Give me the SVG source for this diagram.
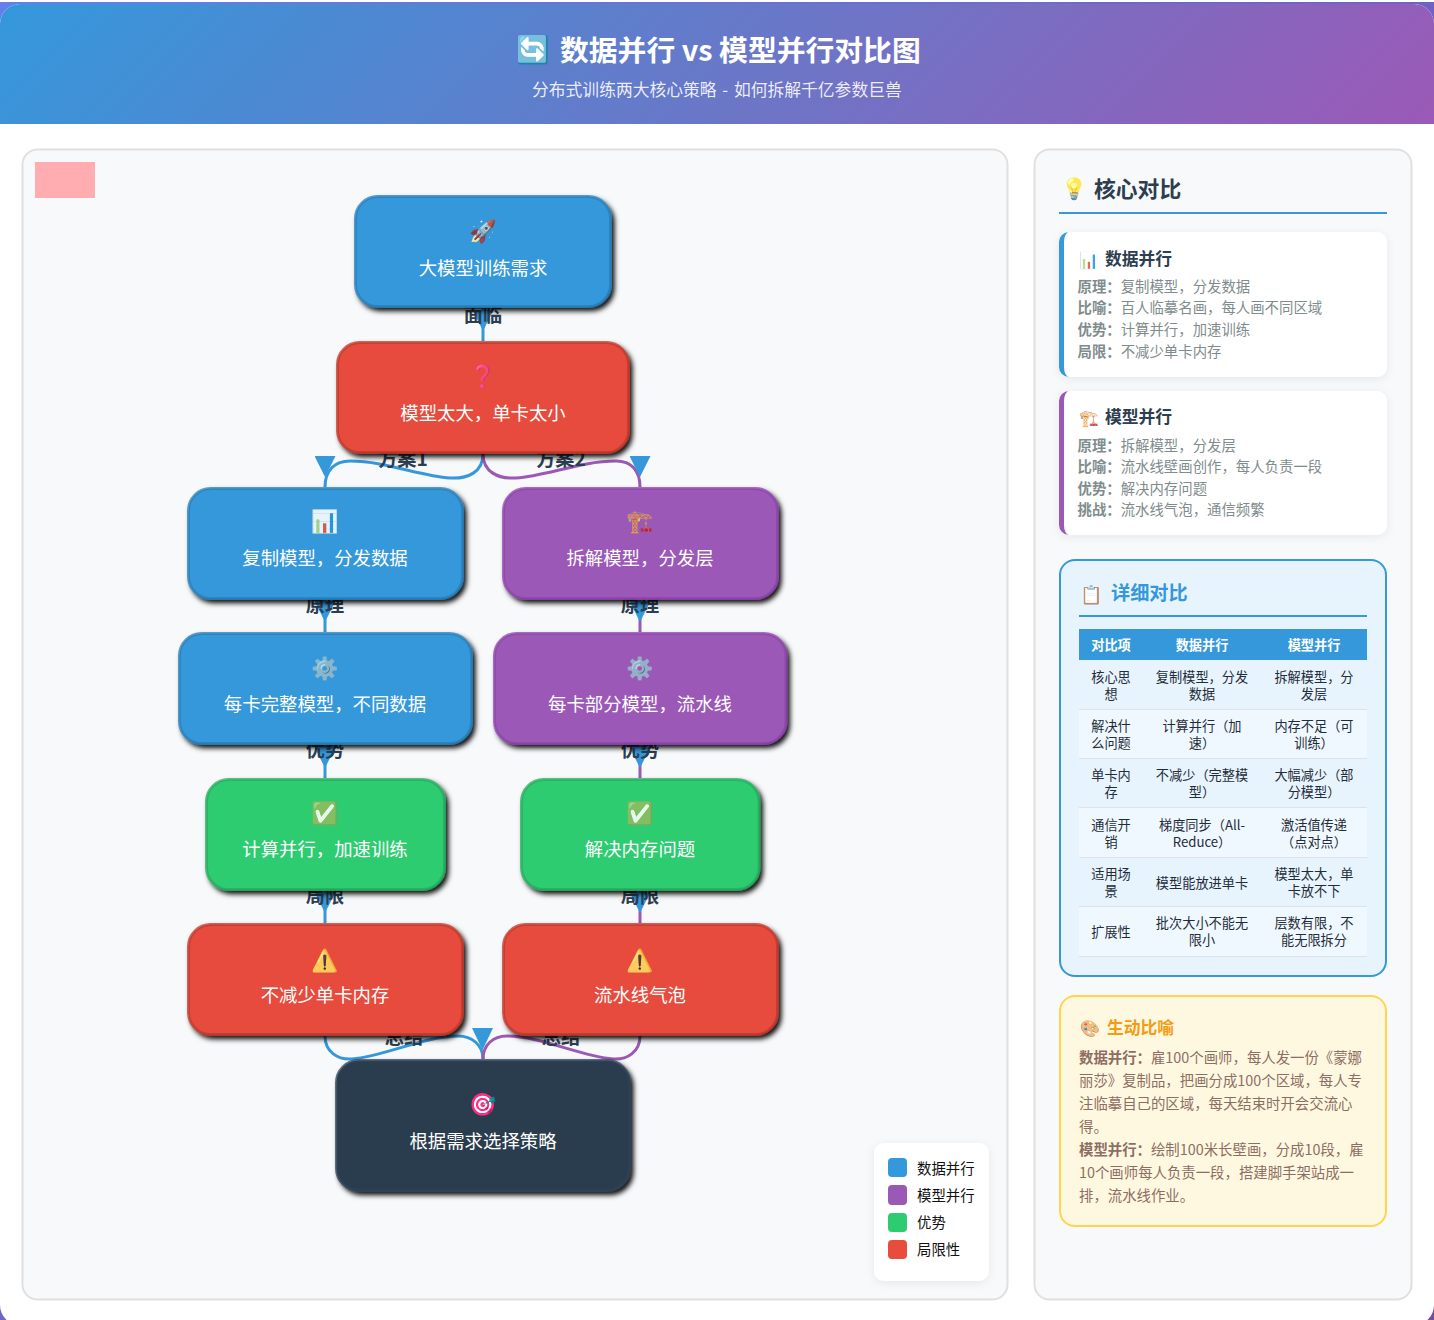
<svg xmlns="http://www.w3.org/2000/svg" width="1434" height="1320" viewBox="0 0 1434 1320">
<style>
text{font-family:"Noto Sans CJK SC","Noto Sans",sans-serif;text-rendering:optimizeLegibility}
.em{font-family:"Noto Color Emoji","Noto Sans CJK SC",sans-serif;filter:saturate(.75) brightness(1.08) opacity(.88)}
.pk{filter:hue-rotate(-28deg) saturate(.85) brightness(1.1)}
.nt{fill:#fff;font-size:18.4px;text-anchor:middle}
.ne{font-size:22px;text-anchor:middle}
.nd{stroke-width:3;stroke-opacity:.75;filter:url(#ns)}
.b{fill:#3498db;stroke:#2980b9}.p{fill:#9b59b6;stroke:#8e44ad}.g{fill:#2ecc71;stroke:#27ae60}.r{fill:#e74c3c;stroke:#c0392b}.k{fill:#2c3e50;stroke:#2f4356}
.cb{fill:none;stroke:#3498db;stroke-width:3}.cp{fill:none;stroke:#9b59b6;stroke-width:3}
.lb{font-size:19.2px;font-weight:700;fill:#2c3e50;text-anchor:middle}
.ct{font-size:14.4px;fill:#7f8c8d}.ct tspan{font-weight:700}
.h3{font-size:16.8px;font-weight:700;fill:#2c3e50}
.td{font-size:13.2px;fill:#1f2d3a;text-anchor:middle}.th{font-size:13.2px;font-weight:700;fill:#fff;text-anchor:middle}
.an{font-size:14.4px;fill:#8d6e63}.an tspan{font-weight:700}
.lg{font-size:14.4px;fill:#111}
.rl{stroke:#dee2e6;stroke-width:1}
</style>
<defs>
<linearGradient id="hg" gradientUnits="userSpaceOnUse" x1="328.5" y1="-324.5" x2="1105.5" y2="452.5"><stop offset="0" stop-color="#3498db"/><stop offset="1" stop-color="#9b59b6"/></linearGradient>
<linearGradient id="bg" gradientUnits="userSpaceOnUse" x1="57" y1="0" x2="1377" y2="1320"><stop offset="0" stop-color="#667eea"/><stop offset="1" stop-color="#764ba2"/></linearGradient>
<filter id="ns" x="-10%" y="-15%" width="125%" height="135%"><feDropShadow dx="3" dy="3.500" stdDeviation="2.500" flood-color="#000" flood-opacity=".95"/></filter>
<filter id="cs" x="-10%" y="-15%" width="120%" height="130%"><feDropShadow dx="0" dy="2" stdDeviation="5" flood-color="#000" flood-opacity=".07"/></filter>
<marker id="ar" viewBox="0 0 21 21" markerWidth="21" markerHeight="21" markerUnits="userSpaceOnUse" refX="10.5" refY="31" orient="0"><path d="M0 0H21L10.500 21Z" fill="#3498db"/></marker>
</defs>
<rect width="1434" height="1320" fill="#fff"/>
<rect y="2" width="1434" height="1318" fill="url(#bg)"/>
<rect y="4" width="1434" height="1321" rx="20" fill="#fff"/>
<path id="header" d="M0 124V24A20 20 0 0 1 20 4H1414A20 20 0 0 1 1434 24V124Z" fill="url(#hg)"/>
<text x="533" y="59" class="em" font-size="27" text-anchor="middle" style="filter:saturate(1.9) brightness(1.05)">🔄</text>
<text x="560" y="61" font-size="28.800" font-weight="700" fill="#fff">数据并行 vs 模型并行对比图</text>
<text x="532" y="96" font-size="16.800" fill="#fff" fill-opacity=".88" word-spacing="2">分布式训练两大核心策略 - 如何拆解千亿参数巨兽</text>
<rect id="panel-left" x="22.500" y="149.500" width="985" height="1150" rx="15" fill="#f8f9fa" stroke="#e0e0e0" stroke-width="2"/>
<rect id="panel-right" x="1034.500" y="149.500" width="377" height="1150" rx="15" fill="#f8f9fa" stroke="#e0e0e0" stroke-width="2"/>
<rect x="35" y="162" width="60" height="36" fill="#ffadb0"/>
<g id="connectors">
<path class="cb" marker-end="url(#ar)" d="M483 308V341"/>
<path class="cb" marker-end="url(#ar)" d="M483 454C483 472 468 479 450 478C420 476 385 461 350 461C335 461 325 470 325 487"/>
<path class="cp" marker-end="url(#ar)" d="M483 454C483 472 498 479 516 478C546 476 581 461 616 461C631 461 640 470 640 487"/>
<path class="cb" marker-end="url(#ar)" d="M325 600V632"/>
<path class="cp" marker-end="url(#ar)" d="M640 600V632"/>
<path class="cb" marker-end="url(#ar)" d="M325 745V778"/>
<path class="cp" marker-end="url(#ar)" d="M640 745V778"/>
<path class="cb" marker-end="url(#ar)" d="M325 891V923"/>
<path class="cp" marker-end="url(#ar)" d="M640 891V923"/>
<path class="cb" d="M325 1036C325 1052 338 1060 352 1059C385 1056 425 1036 458 1036C472 1036 483 1045 483 1059"/>
<path class="cp" d="M640 1036C640 1052 627 1060 613 1059C580 1056 540 1036 507 1036C493 1036 483 1045 483 1059"/>
<path d="M472 1028H493L482.500 1050Z" fill="#3498db"/>
<g id="edge-labels">
<text class="lb" x="483" y="322">面临</text>
<text class="lb" x="403" y="466">方案1</text>
<text class="lb" x="561" y="466">方案2</text>
<text class="lb" x="325" y="612">原理</text>
<text class="lb" x="640" y="612">原理</text>
<text class="lb" x="325" y="757">优势</text>
<text class="lb" x="640" y="757">优势</text>
<text class="lb" x="325" y="903">局限</text>
<text class="lb" x="640" y="903">局限</text>
<text class="lb" x="404" y="1044">总结</text>
<text class="lb" x="561" y="1044">总结</text>
</g>
</g>
<g id="n1"><rect class="nd b" x="355.500" y="196.500" width="255" height="110" rx="22"/><text class="em ne" x="483" y="239">🚀</text><text class="nt" x="483" y="274.500">大模型训练需求</text></g>
<g id="n2"><rect class="nd r" x="337.500" y="342.500" width="291" height="110" rx="22"/><text class="em ne pk" x="483" y="384">❓</text><text class="nt" x="483" y="420">模型太大，单卡太小</text></g>
<g id="n3"><rect class="nd b" x="188.500" y="488.500" width="274" height="110" rx="22"/><text class="em ne" x="325" y="529">📊</text><text class="nt" x="325" y="565">复制模型，分发数据</text></g>
<g id="n4"><rect class="nd p" x="503.500" y="488.500" width="274" height="110" rx="22"/><text class="em ne" x="640" y="529">🏗️</text><text class="nt" x="640" y="565">拆解模型，分发层</text></g>
<g id="n5"><rect class="nd b" x="179.500" y="633.500" width="292" height="110" rx="22"/><text class="em ne" x="325" y="676">⚙️</text><text class="nt" x="325" y="711">每卡完整模型，不同数据</text></g>
<g id="n6"><rect class="nd p" x="494.500" y="633.500" width="291.500" height="110" rx="22"/><text class="em ne" x="640" y="676">⚙️</text><text class="nt" x="640" y="711">每卡部分模型，流水线</text></g>
<g id="n7"><rect class="nd g" x="206.500" y="779.500" width="238" height="110" rx="22"/><text class="em ne" x="325" y="821">✅</text><text class="nt" x="325" y="856">计算并行，加速训练</text></g>
<g id="n8"><rect class="nd g" x="521.500" y="779.500" width="237.500" height="110" rx="22"/><text class="em ne" x="640" y="821">✅</text><text class="nt" x="640" y="856">解决内存问题</text></g>
<g id="n9"><rect class="nd r" x="188.500" y="924.500" width="274" height="110" rx="22"/><text class="em ne" x="325" y="968">⚠️</text><text class="nt" x="325" y="1002">不减少单卡内存</text></g>
<g id="n10"><rect class="nd r" x="503.500" y="924.500" width="274" height="110" rx="22"/><text class="em ne" x="640" y="968">⚠️</text><text class="nt" x="640" y="1002">流水线气泡</text></g>
<g id="n11"><rect class="nd k" x="336.500" y="1060.500" width="293" height="130" rx="22"/><text class="em ne pk" x="483" y="1112">🎯</text><text class="nt" x="483" y="1148">根据需求选择策略</text></g>
<g id="legend"><rect x="874" y="1143" width="115" height="138" rx="10" fill="#fff" filter="url(#cs)"/>
<rect x="888" y="1158" width="19" height="19" rx="4" fill="#3498db"/><text class="lg" x="917" y="1174">数据并行</text>
<rect x="888" y="1185" width="19" height="20" rx="4" fill="#9b59b6"/><text class="lg" x="917" y="1201">模型并行</text>
<rect x="888" y="1213" width="19" height="19" rx="4" fill="#2ecc71"/><text class="lg" x="917" y="1228">优势</text>
<rect x="888" y="1240" width="19" height="19" rx="4" fill="#e74c3c"/><text class="lg" x="917" y="1255">局限性</text></g>
<g id="core">
<text class="em" x="1074" y="196" font-size="21" text-anchor="middle">💡</text>
<text x="1094" y="197" font-size="21.800" font-weight="700" fill="#2c3e50">核心对比</text>
<rect x="1059" y="212" width="328" height="2" fill="#3498db"/>
<g id="card-data"><rect x="1059" y="232" width="328" height="145" rx="10" fill="#fff" filter="url(#cs)"/><path d="M1069 232a10 10 0 0 0 -10 10V367a10 10 0 0 0 10 10a5 10 0 0 1 -5 -10V242a5 10 0 0 1 5 -10Z" fill="#3498db"/>
<text class="em" x="1089" y="266" font-size="16" text-anchor="middle">📊</text><text class="h3" x="1105" y="265">数据并行</text>
<text class="ct" x="1077.500" y="292"><tspan>原理：</tspan>复制模型，分发数据</text>
<text class="ct" x="1077.500" y="313"><tspan>比喻：</tspan>百人临摹名画，每人画不同区域</text>
<text class="ct" x="1077.500" y="335"><tspan>优势：</tspan>计算并行，加速训练</text>
<text class="ct" x="1077.500" y="357"><tspan>局限：</tspan>不减少单卡内存</text></g>
<g id="card-model"><rect x="1059" y="391" width="328" height="144" rx="10" fill="#fff" filter="url(#cs)"/><path d="M1069 391a10 10 0 0 0 -10 10V525a10 10 0 0 0 10 10a5 10 0 0 1 -5 -10V401a5 10 0 0 1 5 -10Z" fill="#9b59b6"/>
<text class="em" x="1089" y="424" font-size="16" text-anchor="middle">🏗️</text><text class="h3" x="1105" y="423">模型并行</text>
<text class="ct" x="1077.500" y="451"><tspan>原理：</tspan>拆解模型，分发层</text>
<text class="ct" x="1077.500" y="472"><tspan>比喻：</tspan>流水线壁画创作，每人负责一段</text>
<text class="ct" x="1077.500" y="494"><tspan>优势：</tspan>解决内存问题</text>
<text class="ct" x="1077.500" y="515"><tspan>挑战：</tspan>流水线气泡，通信频繁</text></g>
</g>
<g id="detail">
<rect x="1060" y="560" width="326" height="416" rx="15" fill="#e8f4fd" stroke="#3498db" stroke-width="2"/>
<text class="em" x="1092" y="601" font-size="18" text-anchor="middle">📋</text>
<text x="1111" y="600" font-size="19.200" font-weight="700" fill="#3498db">详细对比</text>
<rect x="1079" y="615" width="288" height="2" fill="#3498db"/>
<rect x="1079" y="629" width="288" height="31" fill="#3498db"/>
<rect x="1079" y="710" width="288" height="48" fill="#f0f8ff"/><rect x="1079" y="808" width="288" height="49" fill="#f0f8ff"/><rect x="1079" y="907" width="288" height="49" fill="#f0f8ff"/>
<path class="rl" d="M1079 709.500H1367M1079 758.500H1367M1079 807.500H1367M1079 857.500H1367M1079 906.500H1367M1079 956.500H1367"/>
<text class="th" x="1111" y="650">对比项</text><text class="th" x="1202" y="650">数据并行</text><text class="th" x="1314" y="650">模型并行</text>
<g>
<text class="td" x="1111" y="682">核心思</text><text class="td" x="1111" y="699">想</text>
<text class="td" x="1202" y="682">复制模型，分发</text><text class="td" x="1202" y="699">数据</text>
<text class="td" x="1314" y="682">拆解模型，分</text><text class="td" x="1314" y="699">发层</text>
<text class="td" x="1111" y="731">解决什</text><text class="td" x="1111" y="748">么问题</text>
<text class="td" x="1202" y="731">计算并行（加</text><text class="td" x="1202" y="748">速）</text>
<text class="td" x="1314" y="731">内存不足（可</text><text class="td" x="1314" y="748">训练）</text>
<text class="td" x="1111" y="780">单卡内</text><text class="td" x="1111" y="797">存</text>
<text class="td" x="1202" y="780">不减少（完整模</text><text class="td" x="1202" y="797">型）</text>
<text class="td" x="1314" y="780">大幅减少（部</text><text class="td" x="1314" y="797">分模型）</text>
<text class="td" x="1111" y="830">通信开</text><text class="td" x="1111" y="847">销</text>
<text class="td" x="1202" y="830">梯度同步（All-</text><text class="td" x="1202" y="847">Reduce）</text>
<text class="td" x="1314" y="830">激活值传递</text><text class="td" x="1314" y="847">（点对点）</text>
<text class="td" x="1111" y="879">适用场</text><text class="td" x="1111" y="896">景</text>
<text class="td" x="1202" y="888">模型能放进单卡</text>
<text class="td" x="1314" y="879">模型太大，单</text><text class="td" x="1314" y="896">卡放不下</text>
<text class="td" x="1111" y="937">扩展性</text>
<text class="td" x="1202" y="928">批次大小不能无</text><text class="td" x="1202" y="945">限小</text>
<text class="td" x="1314" y="928">层数有限，不</text><text class="td" x="1314" y="945">能无限拆分</text>
</g>
</g>
<g id="analogy">
<rect x="1060" y="996" width="326" height="230" rx="15" fill="#fff8e1" stroke="#ffd54f" stroke-width="2"/>
<text class="em" x="1090" y="1033.500" font-size="16" text-anchor="middle">🎨</text>
<text x="1107" y="1033.500" font-size="16.800" font-weight="700" fill="#f39c12">生动比喻</text>
<text class="an" x="1079" y="1063"><tspan>数据并行：</tspan>雇100个画师，每人发一份《蒙娜</text>
<text class="an" x="1079" y="1086">丽莎》复制品，把画分成100个区域，每人专</text>
<text class="an" x="1079" y="1109">注临摹自己的区域，每天结束时开会交流心</text>
<text class="an" x="1079" y="1132">得。</text>
<text class="an" x="1079" y="1155">
<tspan>模型并行：</tspan>绘制100米长壁画，分成10段，雇</text>
<text class="an" x="1079" y="1178">10个画师每人负责一段，搭建脚手架站成一</text>
<text class="an" x="1079" y="1201">排，流水线作业。</text>
</g>
</svg>
